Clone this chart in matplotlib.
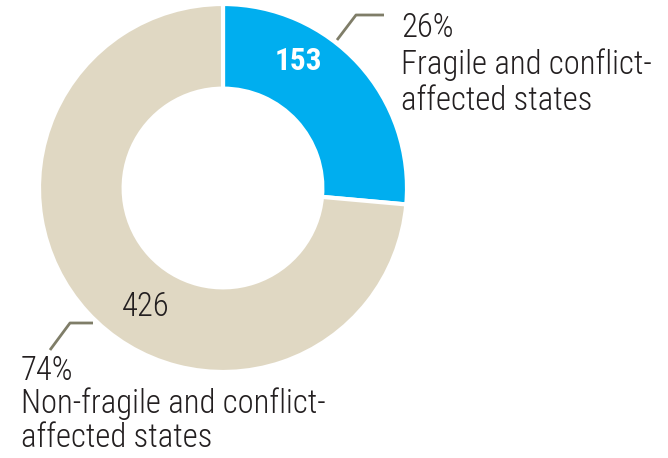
import matplotlib.pyplot as plt

# Daten
values = [153, 426]
shares = ["26%", "74%"]
groups = ["Fragile and conflict-\naffected states", "Non-fragile and conflict-\naffected states"]
colors = ["#00AEEF", "#E0D8C3"]

W, H = 668, 458
plt.rcParams['font.family'] = ['Roboto Condensed', 'DejaVu Sans']

fig = plt.figure(figsize=(W / 100, H / 100), dpi=100)
ax = fig.add_axes([0, 0, 1, 1])

cx, cy, r = 223, H - 188, 184
wedges, _ = ax.pie(values, colors=colors, startangle=90, counterclock=False,
                   center=(cx, cy), radius=r,
                   wedgeprops=dict(width=r * 0.46, edgecolor='white', linewidth=3))
ax.set_xlim(0, W)
ax.set_ylim(0, H)
ax.set_aspect('equal')
ax.axis('off')

dark = "#231F20"
line_c = "#7F7D68"
fs = 23.5

# Werte im Ring
ax.text(298, H - 61, str(values[0]), color='white', fontsize=22.5, fontweight='bold',
        ha='center', va='center')
ax.text(146, H - 307, str(values[1]), color=dark, fontsize=fs, fontweight='light',
        ha='center', va='center')

# Führungslinien
ax.plot([337, 356, 384], [H - 40, H - 15, H - 15], color=line_c, lw=2, solid_capstyle='butt')
ax.plot([93, 70, 50], [H - 323, H - 323, H - 350], color=line_c, lw=2, solid_capstyle='butt')

# Beschriftungen
top_lines = [shares[0]] + groups[0].split('\n')
for txt, yb in zip(top_lines, [37, 74, 110]):
    ax.text(401, H - yb, txt, color=dark, fontsize=fs, fontweight='light', va='baseline')

bottom_lines = [shares[1]] + groups[1].split('\n')
for txt, yb in zip(bottom_lines, [380, 413, 447]):
    ax.text(21, H - yb, txt, color=dark, fontsize=fs, fontweight='light', va='baseline')

fig.savefig("out.png", dpi=100)
